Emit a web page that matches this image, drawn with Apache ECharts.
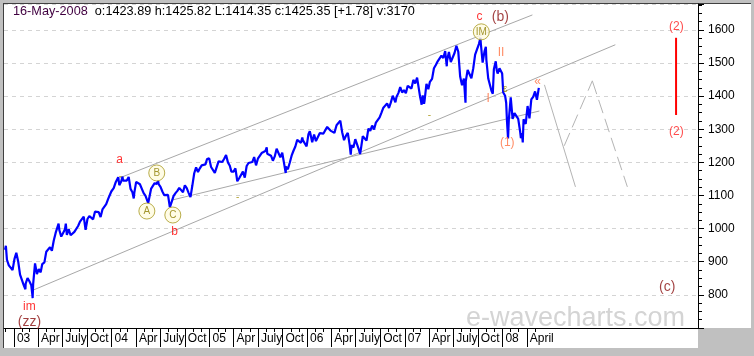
<!DOCTYPE html>
<html>
<head>
<meta charset="utf-8">
<script src="https://cdn.jsdelivr.net/npm/echarts@6/dist/echarts.min.js"></script>
<style>html,body{margin:0;padding:0;background:#c0c0c0;}#c{width:754px;height:356px;}</style>
</head>
<body>
<div id="c"></div>
<script>
// ---- price data (weekly readings, with some swing extremes) ----
const p2002 = [['2002-11-29',936],['2002-12-02',948],['2002-12-06',906],['2002-12-13',889],['2002-12-20',895],['2002-12-27',875],['2002-12-31',880]];
const p2003 = [['01-03',908],['01-10',927],['01-14',931],['01-17',901],['01-24',861],['01-31',856],['02-07',829],['02-13',817],['02-14',834],['02-21',851],['02-28',841],['03-07',829],['03-11',800],['03-12',790],['03-14',833],['03-21',895],['03-28',863],['04-04',878],['04-11',868],['04-17',893],['04-25',898],['05-02',930],['05-09',933],['05-16',944],['05-23',933],['05-30',964],['06-06',987],['06-13',988],['06-17',1015],['06-20',995],['06-27',976],['07-03',985],['07-11',998],['07-14',1015],['07-18',981],['07-25',998],['08-01',980],['08-08',977],['08-15',990],['08-22',993],['08-29',1008],['09-05',1021],['09-12',1018],['09-19',1036],['09-26',996],['10-03',1029],['10-10',1038],['10-17',1039],['10-24',1028],['10-31',1051],['11-07',1053],['11-14',1050],['11-21',1035],['11-28',1058],['12-05',1061],['12-12',1074],['12-19',1089],['12-26',1095],['12-31',1112]];
const p2004 = [['01-02',1108],['01-09',1122],['01-16',1139],['01-23',1141],['01-26',1155],['01-30',1131],['02-06',1142],['02-11',1157],['02-13',1145],['02-20',1144],['02-27',1145],['03-05',1156],['03-12',1120],['03-19',1110],['03-24',1091],['03-26',1108],['04-02',1141],['04-09',1139],['04-16',1134],['04-23',1140],['04-30',1107],['05-07',1099],['05-14',1095],['05-17',1077],['05-21',1093],['05-28',1121],['06-04',1123],['06-10',1137],['06-18',1135],['06-23',1145],['06-25',1134],['07-02',1126],['07-09',1112],['07-16',1101],['07-23',1096],['07-30',1102],['08-06',1064],['08-12',1061],['08-13',1064],['08-20',1099],['08-27',1107],['09-03',1114],['09-10',1123],['09-17',1128],['09-24',1110],['10-01',1131],['10-08',1122],['10-15',1108],['10-22',1095],['10-25',1090],['10-29',1130],['11-05',1167],['11-12',1185],['11-19',1171],['11-26',1182],['12-03',1191],['12-10',1189],['12-17',1194],['12-23',1210],['12-31',1212]];
const p2005 = [['01-07',1186],['01-14',1184],['01-21',1168],['01-24',1163],['01-28',1171],['02-04',1203],['02-11',1205],['02-18',1201],['02-25',1211],['03-04',1222],['03-07',1225],['03-11',1200],['03-18',1190],['03-24',1172],['04-01',1172],['04-08',1182],['04-15',1143],['04-20',1138],['04-22',1152],['04-29',1157],['05-06',1172],['05-13',1154],['05-20',1189],['05-27',1198],['06-03',1197],['06-10',1201],['06-17',1216],['06-24',1191],['07-01',1211],['07-08',1212],['07-15',1228],['07-22',1229],['07-29',1234],['08-03',1245],['08-05',1226],['08-12',1231],['08-19',1220],['08-26',1205],['09-02',1218],['09-09',1241],['09-16',1237],['09-23',1215],['09-30',1229],['10-07',1196],['10-13',1168],['10-14',1187],['10-21',1179],['10-28',1199],['11-04',1220],['11-11',1235],['11-18',1248],['11-25',1268],['12-02',1265],['12-09',1259],['12-14',1275],['12-16',1267],['12-23',1268],['12-30',1248]];
const p2006 = [['01-06',1285],['01-11',1294],['01-13',1287],['01-20',1261],['01-27',1284],['02-03',1264],['02-10',1267],['02-17',1288],['02-24',1289],['03-03',1287],['03-10',1282],['03-17',1307],['03-24',1302],['03-31',1295],['04-07',1295],['04-13',1289],['04-21',1312],['04-28',1311],['05-05',1326],['05-08',1326],['05-12',1291],['05-19',1267],['05-26',1280],['06-02',1289],['06-09',1253],['06-13',1223],['06-16',1252],['06-23',1245],['06-30',1270],['07-07',1265],['07-14',1237],['07-18',1225],['07-21',1240],['07-28',1279],['08-04',1280],['08-11',1266],['08-18',1302],['08-25',1295],['09-01',1311],['09-08',1299],['09-15',1320],['09-22',1315],['09-29',1336],['10-06',1350],['10-13',1365],['10-20',1369],['10-27',1378],['11-03',1364],['11-10',1381],['11-17',1401],['11-24',1400],['11-27',1381],['12-01',1397],['12-08',1409],['12-15',1427],['12-22',1411],['12-29',1418]];
const p2007 = [['01-05',1409],['01-12',1431],['01-19',1431],['01-26',1423],['02-02',1449],['02-09',1438],['02-16',1456],['02-22',1461],['02-27',1399],['03-02',1387],['03-05',1374],['03-09',1402],['03-14',1377],['03-16',1386],['03-23',1437],['03-30',1421],['04-05',1443],['04-13',1452],['04-20',1484],['04-27',1494],['05-04',1505],['05-11',1505],['05-18',1522],['05-25',1515],['06-01',1536],['06-07',1490],['06-08',1507],['06-15',1533],['06-22',1503],['06-29',1503],['07-06',1530],['07-13',1552],['07-19',1556],['07-20',1534],['07-27',1459],['08-03',1433],['08-10',1453],['08-16',1380],['08-17',1445],['08-24',1479],['08-31',1474],['09-07',1454],['09-14',1484],['09-21',1525],['09-28',1527],['10-05',1557],['10-11',1576],['10-12',1561],['10-19',1501],['10-26',1535],['10-31',1549],['11-02',1509],['11-09',1453],['11-16',1458],['11-21',1416],['11-26',1407],['11-30',1481],['12-07',1505],['12-11',1477],['12-14',1468],['12-21',1484],['12-28',1478],['12-31',1468]];
const p2008 = [['01-04',1411],['01-11',1401],['01-15',1380],['01-18',1325],['01-22',1272],['01-23',1290],['01-25',1330],['02-01',1396],['02-08',1331],['02-15',1349],['02-22',1353],['02-29',1331],['03-07',1294],['03-10',1273],['03-14',1288],['03-17',1260],['03-20',1330],['03-28',1316],['04-04',1370],['04-11',1333],['04-18',1390],['04-25',1398],['05-02',1414],['05-09',1389],['05-16',1425]];

// ---- axis ticks / labels ----
const quarterDates = ['2003-01-01','2003-04-01','2003-07-01','2003-10-01','2004-01-01','2004-04-01','2004-07-01','2004-10-01','2005-01-01','2005-04-01','2005-07-01','2005-10-01','2006-01-01','2006-04-01','2006-07-01','2006-10-01','2007-01-01','2007-04-01','2007-07-01','2007-10-01','2008-01-01','2008-04-01'];
const quarterLabels = ['03','Apr','July','Oct','04','Apr','July','Oct','05','Apr','July','Oct','06','Apr','July','Oct','07','Apr','July','Oct','08','April'];
const yLabelValues = [800,900,1000,1100,1200,1300,1400,1500,1600];

// ---- annotation lines (date, value) ----
const upperChannel = [['2004-01-31',1153],['2008-04-22',1645]];
const middleChannel = [['2003-03-07',812],['2009-02-26',1555]];
const lowerLine = [['2004-08-13',1086],['2008-05-18',1355]];
const projSolid = [['2008-06-06',1434],['2008-09-30',1126]];
const projDash1 = [['2008-08-19',1250],['2008-12-02',1446]];
const projDash2 = [['2008-12-02',1446],['2009-04-12',1126]];
const targetBar = [['2009-10-11',1576],['2009-10-11',1343]];

// ---- wave labels ----
const redLabels = [['2004-01-31',1207,'a'],['2004-08-24',990,'b'],['2003-02-28',763,'im'],['2007-10-07',1639,'c']];
const darkLabels = [['2003-02-28',718,'(zz)'],['2007-12-24',1639,'(b)'],['2009-09-08',824,'(c)']];
const orangeLabels = [['2007-12-27',1531,'II'],['2007-11-09',1392,'I'],['2008-01-19',1259,'(1)'],['2008-05-11',1443,'«']];
const targetLabels = [['2009-10-12',1609,'(2)'],['2009-10-12',1292,'(2)']];
const circleLabels = [['2004-05-12',1053,'A'],['2004-06-18',1168,'B'],['2004-08-17',1041,'C'],['2007-10-14',1594,'IM']];
const tinyMarks = [['2004-02-03',1158,'-'],['2005-04-16',1095,'-'],['2007-04-03',1343,'-'],['2008-01-12',1422,'ɛ'],['2004-08-17',1016,'‾']];

function ts(s){const a=s.split('-').map(Number);return Date.UTC(a[0],a[1]-1,a[2]);}
function yr(y,arr){return arr.map(r=>[ts(y+'-'+r[0]),r[1]]);}
const price = p2002.map(r=>[ts(r[0]),r[1]])
  .concat(yr('2003',p2003),yr('2004',p2004),yr('2005',p2005),yr('2006',p2006),yr('2007',p2007),yr('2008',p2008));
const conv = arr => arr.map(r=>[ts(r[0]),r[1],r[2]]);
const quarterTs = quarterDates.map(ts);
const labelMap = {}; quarterTs.forEach((t,i)=>labelMap[t]=quarterLabels[i]);
const monthTs = [];
for(let y=2002;y<=2008;y++){for(let m=0;m<12;m++){const t=Date.UTC(y,m,1); if(t>=ts('2002-12-01') && t<=ts('2008-05-01')) monthTs.push(t);}}

const FONT = '"Liberation Sans", Arial, sans-serif';
const xMin = ts('2002-11-25'), xMax = ts('2010-01-01');

function lineSeries(data, color, type, width, z){
  return {type:'line', data:conv(data), showSymbol:false, symbol:'none', silent:true, z:z||1,
    lineStyle:{color:color, width:width||1, type:type||'solid'}, animation:false};
}
function textSeries(data, color, size, z){
  return {type:'scatter', data:conv(data), symbolSize:1, silent:true, z:z||5, animation:false,
    itemStyle:{color:'transparent'},
    label:{show:true, position:'inside', formatter:p=>p.data[2], color:color, fontSize:size, fontFamily:FONT}};
}

const chart = echarts.init(document.getElementById('c'), null, {renderer:'canvas'});
chart.setOption({
  backgroundColor:'#c0c0c0',
  animation:false,
  graphic:[
    {type:'rect', z:-10, shape:{x:4,y:4,width:747,height:324}, style:{fill:'#ffffff'}},
    {type:'rect', z:-10, shape:{x:4,y:328,width:694,height:20}, style:{fill:'#ffffff'}},
    {type:'line', z:-9, shape:{x1:3.5,y1:3,x2:3.5,y2:348}, style:{stroke:'#404040',lineWidth:1}},
    {type:'line', z:-9, shape:{x1:3,y1:3.5,x2:751,y2:3.5}, style:{stroke:'#404040',lineWidth:1}},
    {type:'text', z:-8, left:466, top:305, style:{text:'e-wavecharts.com', fill:'#d4d4d4', font:'27px '+FONT}},
    {type:'text', z:10, left:13, top:5, style:{text:'{d|16-May-2008}{t|  o:1423.89 h:1425.82 L:1414.35 c:1425.35 [+1.78] v:3170}',
      rich:{d:{fill:'#400040',font:'12.7px '+FONT}, t:{fill:'#000000',font:'12.7px '+FONT}}}}
  ],
  grid:{left:4, right:56, top:4, bottom:28, containLabel:false},
  xAxis:[{
    type:'value', min:xMin, max:xMax,
    axisLine:{show:true, lineStyle:{color:'#000', width:1}},
    axisTick:{show:true, customValues:quarterTs, length:19, lineStyle:{color:'#000', width:1}},
    axisLabel:{show:true, customValues:quarterTs, formatter:v=>labelMap[v]||'', align:'left', padding:[0,0,0,3], margin:5,
      color:'#000', fontSize:12, fontFamily:FONT, hideOverlap:false},
    splitLine:{show:false}
  },{
    type:'value', min:xMin, max:xMax, position:'bottom',
    axisLine:{show:false},
    axisTick:{show:true, customValues:monthTs, length:4, lineStyle:{color:'#000', width:1}},
    axisLabel:{show:false}, splitLine:{show:false}
  }],
  yAxis:{
    type:'value', position:'right', min:700, max:1678, interval:100,
    axisLine:{show:true, lineStyle:{color:'#000', width:1}},
    axisTick:{show:true, length:6, lineStyle:{color:'#000'}},
    minorTick:{show:true, splitNumber:4, length:4, lineStyle:{color:'#000'}},
    axisLabel:{customValues:yLabelValues, formatter:v=>String(v), margin:10, color:'#000', fontSize:12, fontFamily:FONT},
    splitLine:{show:true, lineStyle:{color:'#d4d4d4', type:[4,4], width:1}}
  },
  series:[
    lineSeries(upperChannel,'#a8a8a8'),
    lineSeries(middleChannel,'#a8a8a8'),
    lineSeries(lowerLine,'#a8a8a8'),
    lineSeries(projSolid,'#b4b4b4'),
    lineSeries(projDash1,'#b4b4b4',[14,6]),
    lineSeries(projDash2,'#b4b4b4',[14,6]),
    lineSeries(targetBar,'#ff0000','solid',2,3),
    {type:'line', data:price, showSymbol:false, symbol:'none', silent:true, z:3, animation:false,
      lineStyle:{color:'#0000ff', width:2.2}},
    textSeries(redLabels,'#ff0000',12),
    textSeries(darkLabels,'#8b1010',14),
    textSeries(orangeLabels,'#ff7040',12),
    textSeries(targetLabels,'#ff2020',12),
    textSeries(tinyMarks,'#a08c00',10),
    {type:'scatter', data:conv(circleLabels), symbol:'circle', symbolSize:16, silent:true, z:6, animation:false,
      itemStyle:{color:'#fffbe0', borderColor:'#a89820', borderWidth:1},
      label:{show:true, position:'inside', formatter:p=>p.data[2], color:'#8c7c00', fontSize:10, fontFamily:FONT}}
  ]
});
</script>
</body>
</html>
